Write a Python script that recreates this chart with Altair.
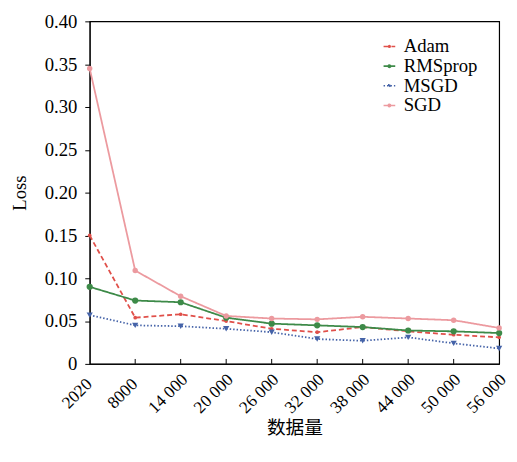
import altair as alt
import pandas as pd

categories = ["2020", "8000", "14 000", "20 000", "26 000", "32 000", "38 000", "44 000", "50 000", "56 000"]
adam = [0.150, 0.054, 0.058, 0.050, 0.041, 0.037, 0.043, 0.038, 0.034, 0.031]
rmsprop = [0.090, 0.074, 0.072, 0.054, 0.047, 0.045, 0.043, 0.039, 0.038, 0.036]
msgd = [0.057, 0.045, 0.044, 0.041, 0.037, 0.029, 0.027, 0.031, 0.024, 0.018]
sgd = [0.345, 0.109, 0.079, 0.056, 0.053, 0.052, 0.055, 0.053, 0.051, 0.042]

series_names = ["Adam", "RMSprop", "MSGD", "SGD"]
series_values = [adam, rmsprop, msgd, sgd]
colors = ["#e0504a", "#3d8a48", "#4563a8", "#ec9a9f"]
dashes = [[5, 3], [1, 0], [1.5, 2], [1, 0]]
shapes = ["circle", "circle", "triangle-down", "circle"]
marker_sizes = [14, 40, 40, 30]

CIRC = "M0.33,0A0.33,0.33,0,1,1,-0.33,0A0.33,0.33,0,1,1,0.33,0Z"
legend_paths = [
    "M-1.6,0L1.6,0M0.22,0A0.22,0.22,0,1,1,-0.22,0A0.22,0.22,0,1,1,0.22,0Z",
    "M-1.6,0L1.6,0M" + CIRC[1:],
    "M-1.6,0L1.6,0M-0.38,-0.3L0.38,-0.3L0,0.38Z",
    "M-1.6,0L1.6,0M" + CIRC[1:],
]

rows = []
for name, vals in zip(series_names, series_values):
    for c, v in zip(categories, vals):
        rows.append({"size": c, "series": name, "lg": name, "loss": v})
df = pd.DataFrame(rows)

FONT = "Liberation Serif"
xscale = alt.Scale(type="point", domain=categories, padding=0)

x_enc = alt.X("size:N", sort=categories, title="数据量", scale=xscale,
              axis=alt.Axis(labelAngle=315, labelAlign="center", labelBaseline="middle",
                            labelFontSize=17.5, labelFont=FONT, labelColor="black",
                            labelOffset=-13, labelPadding=30,
                            titleFont="Noto Sans CJK SC", titleFontSize=19, titleFontWeight="normal",
                            titleColor="black", titleY=65, titleBaseline="middle",
                            tickSize=0, domainColor="black", grid=False))
y_enc = alt.Y("loss:Q", title="Loss",
              scale=alt.Scale(domain=[0, 0.4], nice=False),
              axis=alt.Axis(values=[0, 0.05, 0.1, 0.15, 0.2, 0.25, 0.3, 0.35, 0.4],
                            labelExpr="datum.value == 0 ? '0' : format(datum.value, '.2f')",
                            labelFontSize=19, labelFont=FONT, labelColor="black",
                            titleFont=FONT, titleFontSize=19, titleFontWeight="normal",
                            titleColor="black", titlePadding=15, labelPadding=8,
                            tickSize=5, tickColor="black", domainColor="black", grid=False))

layers = []
for name, col, dash, shp, ms in zip(series_names, colors, dashes, shapes, marker_sizes):
    b = alt.Chart(df).transform_filter(alt.datum.series == name)
    layers.append(b.mark_line(strokeWidth=1.8, color=col, strokeDash=dash).encode(x=x_enc, y=y_enc))
    layers.append(b.mark_point(filled=True, size=ms, opacity=1, color=col, shape=shp).encode(x=x_enc, y=y_enc))

legend_spec = alt.Legend(title=None, orient="none", legendX=295, legendY=16,
                         labelFont=FONT, labelFontSize=19, labelColor="black",
                         symbolSize=55, rowPadding=0, symbolStrokeWidth=1.6, symbolOpacity=1,
                         labelOffset=5)
legend_layer = alt.Chart(df).mark_point(opacity=0, filled=True).encode(
    x=x_enc, y=y_enc,
    fill=alt.Fill("lg:N", sort=series_names, scale=alt.Scale(domain=series_names, range=colors), legend=legend_spec),
    stroke=alt.Stroke("lg:N", sort=series_names, scale=alt.Scale(domain=series_names, range=colors), legend=legend_spec),
    shape=alt.Shape("lg:N", sort=series_names, scale=alt.Scale(domain=series_names, range=legend_paths), legend=legend_spec),
    strokeDash=alt.StrokeDash("lg:N", sort=series_names, scale=alt.Scale(domain=series_names, range=dashes), legend=legend_spec),
)
layers.append(legend_layer)

ticks_df = pd.DataFrame({"size": categories[1:-1]})
xticks = alt.Chart(ticks_df).mark_rule(color="black", strokeWidth=1).encode(
    x=alt.X("size:N", sort=categories, scale=xscale), y=alt.value(343), y2=alt.value(348))
layers.append(xticks)

chart = alt.layer(*layers).properties(
    width=416, height=348,
    autosize=alt.AutoSizeParams(type="none"),
    padding={"left": 83, "top": 10, "right": 10, "bottom": 90},
).configure(background="white").configure_view(stroke="black", strokeWidth=1.2)

chart.save("out.html", embed_options={"renderer": "svg", "actions": False})
